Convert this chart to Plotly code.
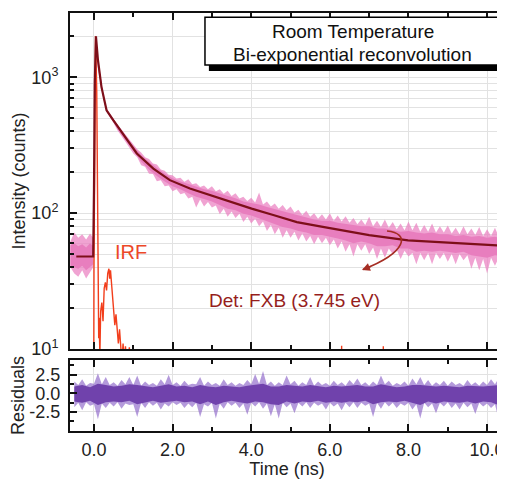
import plotly.graph_objects as go

# ---------------- data ----------------
# Fluorescence decay (pink noisy trace): envelope of the noise band (spike tops / bottoms)
pink_t = [-0.6, -0.5, -0.4, -0.3, -0.2, -0.1, -0.02, 0.02, 0.05, 0.10, 0.19, 0.24, 0.32, 0.49, 0.6, 0.8,
          1.0, 1.2, 1.4, 1.6, 1.8, 2.0, 2.2, 2.4, 2.6, 2.8, 3.0, 3.2, 3.4, 3.6, 3.8, 4.0, 4.2, 4.4, 4.6, 4.8,
          5.0, 5.2, 5.4, 5.6, 5.8, 6.0, 6.2, 6.4, 6.6, 6.8, 7.0, 7.2, 7.4, 7.6, 7.8, 8.0, 8.2, 8.4, 8.6, 8.8,
          9.0, 9.2, 9.4, 9.6, 9.8, 10.0, 10.2, 10.4]
pink_hi = [62, 72, 66, 70, 64, 71, 66, 900, 2050, 1400, 880, 740, 590, 500, 450, 380,
           325, 280, 250, 228, 205, 190, 182, 178, 166, 160, 158, 150, 146, 140, 132, 130, 142, 122, 118, 115,
           112, 106, 104, 100, 98, 100, 96, 95, 92, 90, 94, 88, 90, 86, 84, 87, 85, 82, 84, 80,
           81, 78, 80, 77, 79, 76, 78, 75]
pink_lo = [40, 36, 34, 38, 33, 37, 40, 600, 1900, 1150, 820, 690, 555, 465, 405, 335,
           275, 225, 195, 172, 158, 145, 138, 128, 110, 112, 110, 98, 94, 92, 86, 84, 80, 74, 70, 66,
           66, 63, 62, 59, 60, 58, 55, 52, 48, 53, 50, 46, 47, 50, 46, 48, 42, 45, 42, 46,
           44, 42, 45, 39, 38, 36, 41, 39]
# band edge between the spikes
pink_mid_t = [1.1, 1.3, 1.5, 1.7, 1.9, 2.1, 2.3, 2.5, 2.7, 2.9, 3.1, 3.3, 3.5, 3.7, 3.9, 4.1, 4.3, 4.5,
              4.7, 4.9, 5.1, 5.3, 5.5, 5.7, 5.9, 6.1, 6.3, 6.5, 6.7, 6.9, 7.1, 7.3, 7.5, 7.7, 7.9, 8.1,
              8.3, 8.5, 8.7, 8.9, 9.1, 9.3, 9.5, 9.7, 9.9, 10.1, 10.3]
pink_mid_hi = [295, 258, 232, 210, 192, 180, 170, 163, 156, 150, 145, 139, 134, 128, 123, 120, 116, 112,
               108, 105, 101, 97, 94, 91, 90, 88, 87, 85, 83, 82, 80, 79, 78, 76, 75, 75,
               73, 73, 72, 72, 71, 70, 70, 69, 68, 68, 67]
pink_mid_lo = [258, 220, 194, 175, 160, 150, 141, 132, 126, 121, 114, 108, 103, 99, 94, 91, 87, 82,
               78, 75, 73, 71, 68, 67, 66, 64, 62, 59, 59, 59, 56, 55, 55, 54, 53, 51,
               51, 51, 51, 51, 50, 50, 49, 47, 46, 47, 47]
# dense core of the noise band
core_hi = [58, 60, 57, 59, 56, 60, 57, 850, 2020, 1380, 870, 730, 580, 495, 440, 370,
           312, 268, 238, 216, 195, 181, 171, 164, 156, 150, 146, 139, 134, 129, 122, 119, 116, 111, 107, 104,
           100, 96, 93, 90, 88, 88, 85, 84, 82, 80, 80, 77, 77, 75, 73, 74, 72, 71, 72, 70,
           70, 68, 69, 67, 68, 66, 67, 65]
core_lo = [41, 40, 39, 41, 38, 40, 42, 650, 1930, 1180, 830, 700, 560, 470, 415, 345,
           288, 240, 210, 188, 171, 158, 150, 140, 132, 127, 122, 114, 108, 105, 99, 96, 92, 87, 83, 79,
           77, 74, 72, 69, 69, 67, 65, 63, 60, 62, 60, 57, 57, 58, 55, 55, 52, 53, 52, 53,
           52, 51, 52, 49, 48, 47, 49, 48]

# Bi-exponential reconvolution fit (dark red line)
fit_t = [-0.45, -0.02, 0.0, 0.02, 0.05, 0.10, 0.19, 0.24, 0.32, 0.49, 0.75, 1.09, 1.51, 1.93, 2.44, 2.95,
         3.46, 4.01, 4.56, 5.16, 5.75, 6.26, 7.0, 7.99, 9.0, 10.0, 10.46]
fit_v = [48, 48, 150, 900, 2000, 1350, 850, 716, 571, 483, 375, 275, 213, 175, 152, 136,
         121, 108, 97, 86, 80, 75, 69, 63, 61, 58.5, 57.5]

# Instrument response function (IRF)
irf_t = [-0.6, -0.01, 0.0, 0.02, 0.04, 0.07, 0.10, 0.12, 0.13, 0.15, 0.17, 0.20, 0.23, 0.26, 0.29, 0.32,
         0.35, 0.38, 0.40, 0.42, 0.45, 0.48, 0.50, 0.53, 0.56, 0.59, 0.62, 0.65, 0.68, 0.71, 0.74, 0.77,
         0.80, 0.85, 0.90, 0.95, 1.0, 1.05, 6.29, 6.30, 6.31, 7.35, 7.36, 7.37, 10.5]
irf_v = [1, 1, 40, 1500, 2000, 800, 60, 12, 17, 9, 19, 22, 16, 28, 31, 27,
         36, 39, 33, 38, 30, 24, 20, 15, 18, 13, 11, 14, 10.5, 8, 11, 8,
         10.5, 7, 10.3, 5, 10.2, 1, 1, 10.6, 1, 1, 10.5, 1, 1]

# Residuals (purple noise band): spike envelope, edge between spikes, dense core
res_t = [-0.5, -0.3, -0.1, 0.1, 0.3, 0.5, 0.7, 0.9, 1.1, 1.3, 1.5, 1.7, 1.9, 2.1, 2.3, 2.5, 2.7, 2.9,
         3.1, 3.3, 3.5, 3.7, 3.9, 4.1, 4.3, 4.5, 4.7, 4.9, 5.1, 5.3, 5.5, 5.7, 5.9, 6.1, 6.3, 6.5, 6.7,
         6.9, 7.1, 7.3, 7.5, 7.7, 7.9, 8.1, 8.3, 8.5, 8.7, 8.9, 9.1, 9.3, 9.5, 9.7, 9.9, 10.1, 10.3, 10.5]
res_hi = [1.6, 1.9, 1.4, 2.7, 2.2, 1.5, 1.8, 2.2, 2.4, 1.6, 1.4, 1.9, 2.5, 1.5, 1.7, 1.3, 2.2, 1.6,
          1.4, 1.9, 1.5, 1.4, 1.8, 2.6, 3.0, 1.6, 1.5, 2.4, 1.7, 1.5, 2.2, 1.6, 1.4, 1.7, 1.5, 1.8, 2.0,
          1.5, 1.6, 2.4, 1.7, 1.4, 1.6, 2.0, 2.2, 1.8, 1.5, 1.7, 1.6, 1.4, 1.8, 1.5, 1.6, 1.9, 2.1, 1.8]
res_lo = [-1.9, -2.3, -1.7, -3.5, -2.0, -1.8, -2.1, -1.6, -3.2, -2.0, -1.7, -2.2, -1.8, -1.6, -2.0, -1.9, -3.2, -1.8,
          -3.4, -2.1, -1.7, -2.0, -2.9, -1.8, -2.1, -3.1, -3.4, -1.9, -2.7, -1.8, -2.0, -1.7, -2.2, -1.8, -2.3, -1.9, -2.0,
          -1.7, -3.2, -2.1, -1.8, -2.0, -1.7, -2.2, -3.4, -1.9, -2.7, -1.8, -2.0, -2.2, -1.9, -2.8, -1.8, -2.0, -3.6, -2.2]
res_mid_t = [-0.4, -0.2, 0.0, 0.2, 0.4, 0.6, 0.8, 1.0, 1.2, 1.4, 1.6, 1.8, 2.0, 2.2, 2.4, 2.6, 2.8, 3.0,
             3.2, 3.4, 3.6, 3.8, 4.0, 4.2, 4.4, 4.6, 4.8, 5.0, 5.2, 5.4, 5.6, 5.8, 6.0, 6.2, 6.4, 6.6, 6.8,
             7.0, 7.2, 7.4, 7.6, 7.8, 8.0, 8.2, 8.4, 8.6, 8.8, 9.0, 9.2, 9.4, 9.6, 9.8, 10.0, 10.2, 10.4]
res_mid_hi = [1.1, 1.0, 1.3, 1.2, 1.1, 1.0, 1.2, 1.1, 1.0, 1.1, 1.0, 1.2, 1.1, 1.0, 1.1, 1.2, 1.0, 1.1,
              1.0, 1.1, 1.0, 1.1, 1.2, 1.3, 1.1, 1.0, 1.1, 1.2, 1.0, 1.1, 1.0, 1.1, 1.0, 1.1, 1.0, 1.2, 1.1,
              1.0, 1.1, 1.2, 1.0, 1.1, 1.0, 1.2, 1.1, 1.0, 1.1, 1.0, 1.1, 1.0, 1.1, 1.0, 1.1, 1.2, 1.1]
res_mid_lo = [-1.3, -1.2, -1.5, -1.4, -1.3, -1.2, -1.4, -1.5, -1.3, -1.2, -1.3, -1.4, -1.2, -1.3, -1.4, -1.3, -1.5, -1.3,
              -1.4, -1.2, -1.3, -1.4, -1.3, -1.2, -1.4, -1.5, -1.3, -1.4, -1.3, -1.2, -1.3, -1.4, -1.3, -1.4, -1.3, -1.2, -1.3,
              -1.4, -1.3, -1.2, -1.3, -1.4, -1.3, -1.5, -1.3, -1.4, -1.3, -1.2, -1.4, -1.3, -1.4, -1.3, -1.4, -1.5, -1.3]
res_core_hi = [0.9, 1.1, 0.8, 1.3, 1.1, 0.9, 1.0, 1.2, 1.1, 0.9, 0.8, 1.0, 1.2, 0.9, 1.0, 0.8, 1.1, 0.9,
               0.8, 1.0, 0.9, 0.8, 1.0, 1.2, 1.3, 0.9, 0.9, 1.1, 1.0, 0.9, 1.1, 0.9, 0.8, 1.0, 0.9, 1.0, 1.1,
               0.9, 0.9, 1.2, 1.0, 0.8, 0.9, 1.1, 1.1, 1.0, 0.9, 1.0, 0.9, 0.8, 1.0, 0.9, 0.9, 1.0, 1.1, 1.0]
res_core_lo = [-1.1, -1.3, -1.0, -1.6, -1.2, -1.1, -1.2, -1.0, -1.5, -1.2, -1.0, -1.3, -1.1, -1.0, -1.2, -1.1, -1.5, -1.1,
               -1.6, -1.2, -1.0, -1.2, -1.4, -1.1, -1.2, -1.5, -1.6, -1.1, -1.4, -1.1, -1.2, -1.0, -1.3, -1.1, -1.3, -1.1, -1.2,
               -1.0, -1.5, -1.2, -1.1, -1.2, -1.0, -1.3, -1.6, -1.1, -1.4, -1.1, -1.2, -1.3, -1.1, -1.4, -1.1, -1.2, -1.6, -1.3]

x_ticks = [0, 2, 4, 6, 8, 10]
x_ticklabels = ["0.0", "2.0", "4.0", "6.0", "8.0", "10.0"]
x_minor = [1, 3, 5, 7, 9]
y_ticks = [10, 100, 1000]
y_ticklabels = ["10<sup>1</sup>", "10<sup>2</sup>", "10<sup>3</sup>"]
y_minor = [20, 30, 40, 50, 60, 70, 80, 90, 200, 300, 400, 500, 600, 700, 800, 900, 2000]
r_ticks = [-2.5, 0, 2.5]
r_ticklabels = ["-2.5", "0.0", "2.5"]
r_minor = [-3.75, -1.25, 1.25, 3.75]

# ---------------- figure ----------------
FONT = "Arial, 'Liberation Sans', sans-serif"
AX = "#111111"
GRID = "#e2e2e2"
PINK_OUT = "rgba(234,128,192,0.72)"
PINK = "rgb(232,126,190)"
FIT = "rgb(125,15,25)"
IRF = "rgb(242,62,28)"
PURP_OUT = "rgba(140,100,200,0.65)"
PURP = "rgb(112,66,172)"

fig = go.Figure()


def merge(t1, v1, t2, v2):
    pts = sorted(zip(t1 + t2, v1 + v2))
    return [p[0] for p in pts], [p[1] for p in pts]


def band(t_hi, hi, t_lo, lo, color, xa, ya):
    fig.add_trace(go.Scatter(x=t_hi + t_lo[::-1], y=hi + lo[::-1], fill="toself", fillcolor=color,
                             line=dict(width=0, color=color), mode="lines", hoverinfo="skip",
                             xaxis=xa, yaxis=ya, showlegend=False))


th, vh = merge(pink_t, pink_hi, pink_mid_t, pink_mid_hi)
tl, vl = merge(pink_t, pink_lo, pink_mid_t, pink_mid_lo)
band(th, vh, tl, vl, PINK_OUT, "x", "y")
band(pink_t, core_hi, pink_t, core_lo, PINK, "x", "y")
fig.add_trace(go.Scatter(x=irf_t, y=irf_v, mode="lines", line=dict(color=IRF, width=1.4),
                         xaxis="x", yaxis="y", showlegend=False))
fig.add_trace(go.Scatter(x=fit_t, y=fit_v, mode="lines", line=dict(color=FIT, width=2.2),
                         xaxis="x", yaxis="y", showlegend=False))
th, vh = merge(res_t, res_hi, res_mid_t, res_mid_hi)
tl, vl = merge(res_t, res_lo, res_mid_t, res_mid_lo)
band(th, vh, tl, vl, PURP_OUT, "x2", "y2")
band(res_t, res_core_hi, res_t, res_core_lo, PURP, "x2", "y2")

xcommon = dict(range=[-0.61, 10.43], tickmode="array", tickvals=x_ticks, ticks="inside", ticklen=7,
               tickwidth=2, tickcolor=AX, mirror="allticks", showline=True, linecolor=AX, linewidth=2,
               showgrid=True, gridcolor=GRID, gridwidth=1, zeroline=False, automargin=False,
               tickfont=dict(size=18),
               minor=dict(tickmode="array", tickvals=x_minor, ticks="inside", ticklen=4, tickcolor=AX,
                          showgrid=False))

# the page adds an 8px body margin, so the figure is 8px smaller than the window
fig.update_layout(
    width=497, height=471,
    margin=dict(l=62, r=1, t=5, b=48),
    paper_bgcolor="white", plot_bgcolor="white",
    font=dict(family=FONT, size=18, color="#222222"),
    showlegend=False,
    xaxis=dict(anchor="y", domain=[0, 1], showticklabels=False, **xcommon),
    xaxis2=dict(anchor="y2", domain=[0, 1], matches="x", showticklabels=True, ticktext=x_ticklabels,
                ticklabelstandoff=1,
                title=dict(text="Time (ns)", standoff=3, font=dict(size=18)), **xcommon),
    yaxis=dict(anchor="x", domain=[0.196, 1], type="log", range=[1, 3.473], tickmode="array",
               tickvals=y_ticks, ticktext=y_ticklabels, ticks="inside", ticklen=7, tickwidth=2,
               tickcolor=AX, mirror="allticks", showline=True, linecolor=AX, linewidth=2,
               showgrid=True, gridcolor=GRID, zeroline=False, automargin=False, ticklabelstandoff=6,
               tickfont=dict(size=18),
               minor=dict(tickmode="array", tickvals=y_minor, ticks="inside", ticklen=4, tickcolor=AX,
                          showgrid=True, gridcolor=GRID),
               title=dict(text="Intensity (counts)", standoff=1, font=dict(size=18))),
    yaxis2=dict(anchor="x2", domain=[0, 0.170], range=[-5.1, 4.5], tickmode="array",
                tickvals=r_ticks, ticktext=r_ticklabels, ticks="inside", ticklen=7, tickwidth=2,
                tickcolor=AX, mirror="allticks", showline=True, linecolor=AX, linewidth=2,
                showgrid=True, gridcolor=GRID, zeroline=False, automargin=False, ticklabelstandoff=4,
                tickfont=dict(size=18),
                minor=dict(tickmode="array", tickvals=r_minor, ticks="inside", ticklen=4, tickcolor=AX),
                title=dict(text="Residuals", standoff=0, font=dict(size=18))),
)

# legend-like box with drop shadow
fig.add_shape(type="rect", xref="paper", yref="paper", x0=0.320, x1=1.002, y0=0.861, y1=0.978,
              fillcolor="black", line=dict(width=0), layer="above")
fig.add_shape(type="rect", xref="paper", yref="paper", x0=0.311, x1=0.993, y0=0.8756, y1=0.990,
              fillcolor="white", line=dict(width=1.5, color="black"), layer="above")
fig.add_annotation(xref="paper", yref="paper", x=0.652, y=0.955, xanchor="center", yanchor="middle",
                   text="Room Temperature", showarrow=False, font=dict(size=19, color="#111111"))
fig.add_annotation(xref="paper", yref="paper", x=0.652, y=0.900, xanchor="center", yanchor="middle",
                   text="Bi-exponential reconvolution", showarrow=False, font=dict(size=19, color="#111111"))

# labels
fig.add_annotation(xref="x", yref="y", x=0.94, y=1.713, xanchor="center", yanchor="middle", text="IRF",
                   showarrow=False, font=dict(size=20, color="rgb(236,72,40)"))
fig.add_annotation(xref="x", yref="y", x=5.1, y=1.36, xanchor="center", yanchor="middle",
                   text="Det: FXB (3.745 eV)", showarrow=False, font=dict(size=19, color="rgb(150,30,28)"))

# curved arrow from the fit curve to the label
fig.add_shape(type="path", xref="paper", yref="paper",
              path="M 0.7304 0.4785 C 0.7834 0.4737 0.7788 0.4282 0.6750 0.3862",
              line=dict(color="rgb(165,45,35)", width=1.6), layer="above")
fig.add_annotation(xref="paper", yref="paper", x=0.6728, y=0.3852, ax=10, ay=-4, text="",
                   showarrow=True, arrowhead=2, arrowsize=1, arrowwidth=1.6,
                   arrowcolor="rgb(165,45,35)")

fig.write_html("out.html")
